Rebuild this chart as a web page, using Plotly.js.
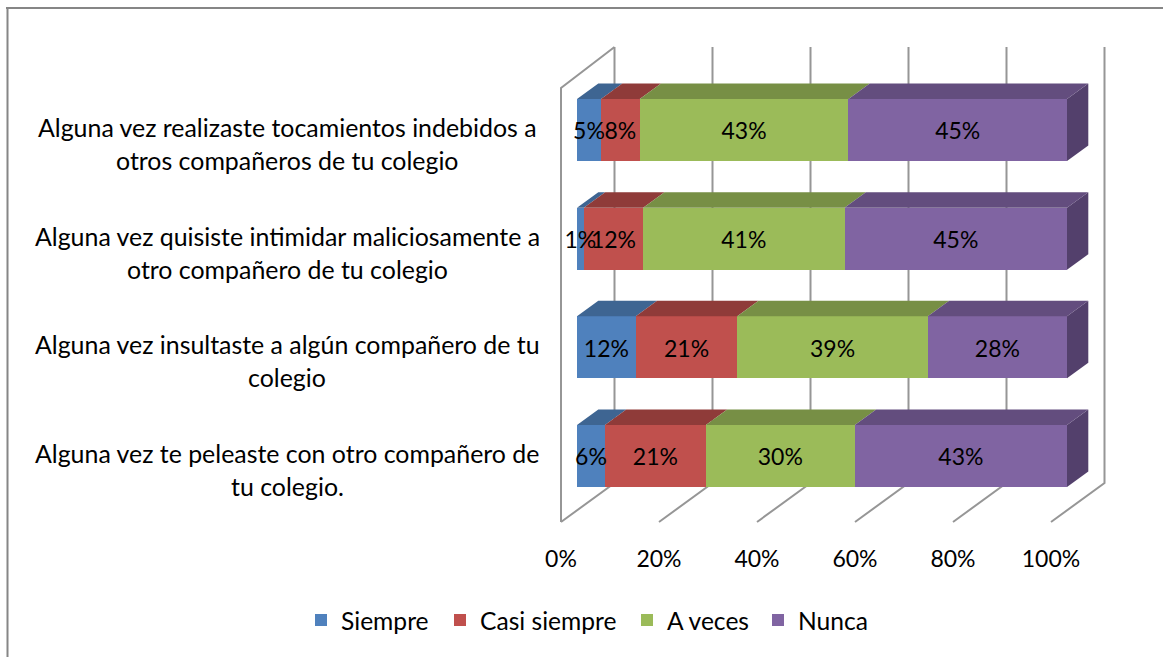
<!DOCTYPE html>
<html>
<head>
<meta charset="utf-8">
<script src="https://cdn.plot.ly/plotly-3.0.1.min.js"></script>
<style>html,body{margin:0;padding:0;background:#fff}#c{width:1163px;height:657px}</style>
</head>
<body>
<div id="c"></div>
<script>
// ---- data (bottom row first, as the chart stacks them) ----
var categories = [
  "Alguna vez te peleaste con otro compañero de<br>tu colegio.",
  "Alguna vez insultaste a algún compañero de tu<br>colegio",
  "Alguna vez quisiste intimidar maliciosamente a<br>otro compañero de tu colegio",
  "Alguna vez realizaste tocamientos indebidos a<br>otros compañeros de tu colegio"
];
var siempre     = [5.7, 12.0, 1.4, 4.9];
var casiSiempre = [20.6, 20.7, 12.1, 7.9];
var aVeces      = [30.4, 38.9, 41.1, 42.6];
var nunca       = [43.3, 28.4, 45.4, 44.6];
var seriesNames = ["Siempre", "Casi siempre", "A veces", "Nunca"];
var tickValues  = [0, 20, 40, 60, 80, 100];

// ---- style ----
var W = 1163, H = 657;
var FONT = "Lato, Carlito, Calibri, sans-serif";
var FS = 24.9, FSLEG = 24.6, FSNUM = 23;
var colors    = ["#4F81BD", "#C0504D", "#9BBB59", "#8064A2"];
var topColors = ["#3E6592", "#8F3B39", "#778F45", "#634D7E"];
var sideColor = "#53406C";
var gridColor = "#969696";
var legendLeftPx = [301, 440, 627, 758];

// ---- 3D geometry, in pixels of the picture ----
var pxPerPct = 4.9, pxPerRow = 108.67;
var row0Px = 456, planeZeroPx = 561, barZeroPx = 577;
var domL = 500, domR = 1130, domT = 30, domB = 535;
var barH = 62 / pxPerRow;
var barDx = 21.3 / pxPerPct, barDy = 15.5 / pxPerRow;
var wallDx = 53.5 / pxPerPct;
var labelDy = -3.5 / pxPerRow;
function rowAt(px) { return (row0Px - px) / pxPerRow; }
var floorFront = rowAt(522), floorBack = rowAt(483), wallTop = rowAt(47), wallFrontTop = rowAt(88);

var rows = categories.map(function (_, i) { return i; });
var series = [siempre, casiSiempre, aVeces, nunca];
var traces = [];

// walls and floor lines (lowest layer, main axes)
var gx = [], gy = [];
tickValues.forEach(function (t) {
  gx.push(t, t + wallDx, t + wallDx, null);
  gy.push(floorFront, floorBack, wallTop, null);
});
gx.push(0, 0, wallDx);
gy.push(floorFront, wallFrontTop, wallTop);
traces.push({type: "scatter", mode: "lines", x: gx, y: gy, xaxis: "x", yaxis: "y",
  line: {color: gridColor, width: 2}, showlegend: false, hoverinfo: "skip", connectgaps: false});

// front faces, each with its own legend box so the entries sit where the reference has them
series.forEach(function (vals, s) {
  traces.push({type: "bar", orientation: "h", name: seriesNames[s], x: vals, y: rows,
    xaxis: "x2", yaxis: "y", width: barH, marker: {color: colors[s], line: {width: 0}}, hoverinfo: "skip",
    legend: s === 0 ? "legend" : "legend" + (s + 1)});
});

// top and side faces, labels
var cum = rows.map(function () { return 0; });
var labelX = [], labelT = [];
series.forEach(function (vals, s) {
  var tx = [], ty = [], lx = [], lt = [];
  rows.forEach(function (r, i) {
    var a = cum[i], b = a + vals[i], up = r + barH / 2, dn = r - barH / 2;
    tx.push(a, b, b + barDx, a + barDx, a, null);
    ty.push(up, up, up + barDy, up + barDy, up, null);
    lx.push((a + b) / 2);
    lt.push(Math.round(vals[i]) + "%");
    if (s === series.length - 1) {
      traces.push({type: "scatter", mode: "lines", x: [b, b + barDx, b + barDx, b, b],
        y: [up, up + barDy, dn + barDy, dn, up], xaxis: "x2", yaxis: "y", fill: "toself",
        fillcolor: sideColor, line: {width: 0, color: sideColor}, showlegend: false, hoverinfo: "skip"});
    }
    cum[i] = b;
  });
  labelX.push(lx); labelT.push(lt);
  traces.push({type: "scatter", mode: "lines", x: tx, y: ty, xaxis: "x2", yaxis: "y", fill: "toself",
    fillcolor: topColors[s], line: {width: 0, color: topColors[s]}, showlegend: false, hoverinfo: "skip"});
});
series.forEach(function (vals, s) {
  traces.push({type: "scatter", mode: "text", x: labelX[s],
    y: rows.map(function (r) { return r + labelDy; }), text: labelT[s], xaxis: "x2", yaxis: "y",
    textposition: "middle center", textfont: {family: FONT, size: FSNUM, color: "#000"},
    showlegend: false, hoverinfo: "skip", cliponaxis: false});
});

// category labels, one annotation per line to keep the wide line pitch
var annotations = [];
categories.forEach(function (c, i) {
  c.split("<br>").forEach(function (line, k) {
    annotations.push({xref: "paper", yref: "y", x: 287 / W, y: i, xanchor: "center", yanchor: "middle",
      yshift: k === 0 ? 3 : -30, text: line, showarrow: false, align: "center",
      font: {family: FONT, size: FS, color: "#000"}});
  });
});

var layout = {
  width: W, height: H, margin: {l: 0, r: 0, t: 0, b: 0},
  paper_bgcolor: "#fff", plot_bgcolor: "rgba(0,0,0,0)",
  barmode: "stack", showlegend: true,
  font: {family: FONT, size: FS, color: "#000"},
  xaxis: {domain: [domL / W, domR / W], anchor: "y",
    range: [(domL - planeZeroPx) / pxPerPct, (domR - planeZeroPx) / pxPerPct],
    tickmode: "array", tickvals: tickValues, ticktext: tickValues.map(function (t) { return t + "%"; }),
    showgrid: false, zeroline: false, showline: false, ticks: "", ticklabelstandoff: 8,
    tickfont: {family: FONT, size: FSNUM, color: "#000"}},
  xaxis2: {overlaying: "x", anchor: "y", visible: false,
    range: [(domL - barZeroPx) / pxPerPct, (domR - barZeroPx) / pxPerPct], fixedrange: true},
  yaxis: {domain: [1 - domB / H, 1 - domT / H], anchor: "x", visible: false,
    range: [rowAt(domB), rowAt(domT)], showgrid: false, zeroline: false},
  annotations: annotations,
  shapes: [
    {type: "line", xref: "paper", yref: "paper", x0: 6 / W, x1: 1, y0: 1 - 8 / H, y1: 1 - 8 / H,
     line: {color: "#868686", width: 2}},
    {type: "line", xref: "paper", yref: "paper", x0: 7.5 / W, x1: 7.5 / W, y0: 1 - 7 / H, y1: 0,
     line: {color: "#868686", width: 2}}
  ]
};
legendLeftPx.forEach(function (px, s) {
  layout[s === 0 ? "legend" : "legend" + (s + 1)] = {
    orientation: "h", x: px / W, y: 1 - 620 / H, xanchor: "left", yanchor: "middle",
    bgcolor: "rgba(0,0,0,0)", font: {family: FONT, size: FSLEG, color: "#000"}
  };
});
Plotly.newPlot("c", traces, layout, {displayModeBar: false, staticPlot: true});
</script>
</body>
</html>
